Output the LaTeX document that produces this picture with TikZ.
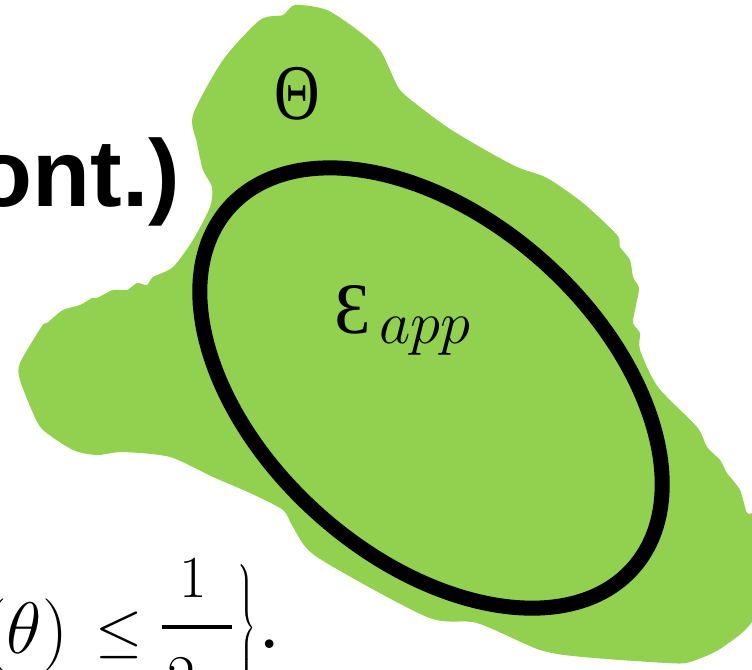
\documentclass[tikz,border=0pt]{standalone}
\usepackage{fontspec}
\newfontfamily\sansb{Liberation Sans}
\newfontfamily\seriff{Liberation Serif}
\definecolor{blobgreen}{RGB}{146,208,80}
\tikzset{
  txt/.style={inner sep=0pt, outer sep=0pt},
  blob/.style={fill=blobgreen, draw=none},
  ring/.style={draw=black, line width=0.15cm}
}
\begin{document}
\begin{tikzpicture}[x=0.01cm,y=-0.01cm]
\useasboundingbox (0,0) rectangle (752,669);
\clip (0,0) rectangle (752,669);
% region Theta
\fill[blob] plot[smooth cycle, tension=0.45] coordinates {
(295,5) (327,10) (360,32) (380,50) (390,70) (400,90) (420,107) (447,127)
(480,147) (517,167) (547,178) (583,203) (617,235) (620,247) (630,260)
(633,277) (639,288) (636,305) (633,323) (640,333) (640,350) (658,387)
(697,427) (707,447) (720,460) (727,473) (740,490) (747,513) (756,520)
(756,613) (723,647) (690,662) (667,663) (583,657) (540,650) (477,623)
(427,617) (317,557) (293,527) (283,510) (250,493) (213,477) (170,457)
(123,452) (97,455) (73,450) (43,430) (33,413) (20,380) (20,363) (42,326)
(47,323) (63,310) (80,305) (92,298) (97,298) (113,290) (127,290)
(137,283) (147,285) (153,277) (173,267) (193,240) (210,207) (212,187)
(203,170) (197,143) (193,115) (223,60) (260,20) (283,15)};
% ellipse
\draw[ring] (431,388) ellipse [x radius=2.706cm, y radius=1.69cm, rotate=-41.8];
% labels
\node[txt, xscale=0.8] (theta) at (297,94) {\fontsize{22.4}{26}\selectfont\seriff Θ};
\node[txt, anchor=base west] (eps) at (334,333) {\fontsize{20.6}{24}\selectfont\seriff Ɛ};
\node[txt, anchor=base west] (app) at (379,343) {\fontsize{16}{19}\selectfont$app$};
% title fragment
\node[txt, anchor=base east] (title) at (180,206) {\fontsize{27}{32}\selectfont\sansb\bfseries ont.)};
% bottom formula fragment
\node[txt, anchor=base east] (par) at (68,653) {\fontsize{22}{26}\selectfont$(\theta)$};
\node[txt, anchor=base] (le) at (119,650) {\fontsize{17.5}{21}\selectfont$\leq$};
\node[txt, anchor=base] (num) at (193,597) {\fontsize{17}{20}\selectfont 1};
\coordinate (barL) at (162,627);
\coordinate (barR) at (232,627);
\draw[line width=0.045cm] (barL) -- (barR);
\node[txt, anchor=base] (den) at (199,697) {\fontsize{17}{20}\selectfont$2\gamma$};
\node[txt, anchor=north west, xscale=0.6] (brace) at (235,563) {$\left.\vcenter{\hbox{\rule{0pt}{1.3cm}}}\right\}$};
\node[txt, anchor=base] (dot) at (270,648) {\fontsize{30}{32}\selectfont .};
\end{tikzpicture}
\end{document}
